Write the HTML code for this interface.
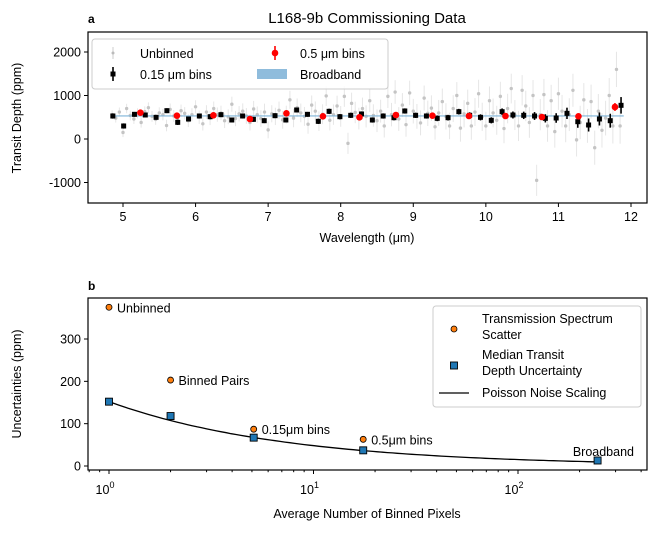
<!DOCTYPE html>
<html><head><meta charset="utf-8"><style>
body{margin:0;background:#fff}
svg{display:block;font-family:"Liberation Sans",sans-serif}
</style></head><body>
<svg id="fig" width="664" height="533" viewBox="0 0 664 533" xmlns="http://www.w3.org/2000/svg">
<text x="367" y="23" font-size="15" text-anchor="middle">L168-9b Commissioning Data</text>
<text x="88" y="23" font-size="12" font-weight="bold">a</text>
<text x="88" y="290" font-size="12" font-weight="bold">b</text>
<g id="panelTop"></g>
<g id="panelBot"></g>
</svg>
<script>
// ---------- Panel a data ----------
const bin15Start = 4.86, bin15Step = 0.149;
const bin15Values = [529,299,567,552,498,651,383,460,529,513,559,437,529,452,421,536,437,667,567,406,636,513,544,575,
  437,529,490,644,544,529,475,490,628,544,498,429,628,552,544,529,475,483,590,398,322,460,421,774];
const bin15Err = [60,60,55,55,55,55,60,55,55,55,55,55,55,55,55,55,55,55,55,60,60,60,60,60,
  60,60,60,60,60,60,65,65,65,70,70,70,75,80,85,90,95,110,130,140,150,150,160,190];
const bin5Start = 5.24, bin5Step = 0.503;
const bin5Values = [605,536,544,460,590,521,498,552,536,529,529,506,521,736];
const bin5Err = [40,40,40,40,40,40,40,40,45,45,50,55,60,90];
const broadbandValue = 530;
const unbStart = 4.85, unbStep = 0.05;
const unbValues = [560,480,620,150,700,540,460,590,380,630,720,520,450,600,560,310,680,530,470,650,
  590,420,560,740,500,350,620,480,700,560,600,420,510,800,470,580,640,530,380,690,
  560,470,620,210,580,520,660,440,560,900,480,720,600,520,340,780,640,410,570,990,
  430,560,760,520,980,-100,820,610,470,700,520,880,540,420,640,300,980,560,1080,460,
  780,330,1060,640,520,370,940,590,710,280,600,860,520,300,700,1000,250,580,820,300,
  620,1040,510,300,880,600,430,980,240,700,1160,550,300,1120,760,380,1000,-950,560,1020,
  300,880,170,1040,640,300,560,1120,-20,380,900,300,860,-200,640,200,480,1000,300,1600,300];
const unbErr = unbValues.map((v,i)=>100+i*2.2);
// ---------- Panel b data ----------
const scatterX = [1,2,5.1,17.5];
const scatterY = [375,203,87,63];
const scatterLabels = ["Unbinned","Binned Pairs","0.15\u03bcm bins","0.5\u03bcm bins"];
const medianX = [1,2,5.1,17.5,245];
const medianY = [152,118,67,37,13];
const poissonBase = 152;
const yTicksA = [-1000,0,1000,2000];
const xTicksA = [5,6,7,8,9,10,11,12];
const yTicksB = [0,100,200,300];
const xTicksB = [1,10,100];

const NS="http://www.w3.org/2000/svg";
function mk(parent,tag,attrs){const e=document.createElementNS(NS,tag);for(const k in attrs)e.setAttribute(k,attrs[k]);parent.appendChild(e);return e;}
function txt(parent,x,y,s,attrs){const e=mk(parent,'text',Object.assign({x:x,y:y,'font-size':12.5},attrs||{}));e.textContent=s;return e;}

// ===== Panel a =====
const gTop=document.getElementById('panelTop');
const AL=88,AR=647,AT=32,AB=203;
const xa=v=>123+(v-5)*72.57;
const ya=v=>139-v*0.0435;
mk(gTop,'rect',{x:AL,y:AT,width:AR-AL,height:AB-AT,fill:'none',stroke:'#000','stroke-width':1.2});
unbValues.forEach((v,i)=>{const x=xa(unbStart+i*unbStep);
  const g=mk(gTop,'g',{});
  
  
  mk(g,'line',{x1:x,x2:x,y1:ya(v-unbErr[i]),y2:ya(v+unbErr[i]),stroke:'#e6e6e6','stroke-width':1});
  mk(g,'circle',{cx:x,cy:ya(v),r:1.7,fill:'#c4c4c4'});});
mk(gTop,'line',{x1:xa(4.86),x2:xa(11.9),y1:ya(broadbandValue),y2:ya(broadbandValue),stroke:'#7eb3d8','stroke-width':1.1,});
bin15Values.forEach((v,i)=>{const x=xa(bin15Start+i*bin15Step);
  const g=mk(gTop,'g',{});
  
  
  mk(g,'line',{x1:x,x2:x,y1:ya(v-bin15Err[i]),y2:ya(v+bin15Err[i]),stroke:'#000','stroke-width':1.6});
  mk(g,'rect',{x:x-2.5,y:ya(v)-2.5,width:5,height:5,fill:'#000'});});
bin5Values.forEach((v,i)=>{const x=xa(bin5Start+i*bin5Step);
  const g=mk(gTop,'g',{});
  
  
  mk(g,'line',{x1:x,x2:x,y1:ya(v-bin5Err[i]),y2:ya(v+bin5Err[i]),stroke:'red','stroke-width':1.6});
  mk(g,'circle',{cx:x,cy:ya(v),r:3.3,fill:'red'});});
xTicksA.forEach(t=>{const x=xa(t);mk(gTop,'line',{x1:x,x2:x,y1:AB,y2:AB+4,stroke:'#000'});
  const e=txt(gTop,x,AB+18,String(t),{'text-anchor':'middle'});});
yTicksA.forEach(t=>{const y=ya(t);mk(gTop,'line',{x1:AL-4,x2:AL,y1:y,y2:y,stroke:'#000'});
  const e=txt(gTop,AL-7,y+4.5,String(t),{'text-anchor':'end'});});
txt(gTop,367,242,'Wavelength (\u03bcm)',{'text-anchor':'middle',});
txt(gTop,21,118,'Transit Depth (ppm)',{'text-anchor':'middle',transform:'rotate(-90 21 118)',});
// legend a
const lg=mk(gTop,'g',{});
mk(lg,'rect',{x:92,y:39,width:296,height:50,rx:3,fill:'#fff','fill-opacity':0.85,stroke:'#ccc'});
mk(lg,'line',{x1:113,x2:113,y1:47,y2:59,stroke:'#ccc'});mk(lg,'circle',{cx:113,cy:53,r:1.5,fill:'#bbb'});
txt(lg,140,58,'Unbinned');
mk(lg,'line',{x1:113,x2:113,y1:67,y2:81,stroke:'#000','stroke-width':1.6});mk(lg,'rect',{x:110.5,y:71.5,width:5,height:5,fill:'#000'});
txt(lg,140,79,'0.15 \u03bcm bins');
mk(lg,'line',{x1:275,x2:275,y1:46,y2:60,stroke:'red','stroke-width':1.6});mk(lg,'circle',{cx:275,cy:53,r:3.3,fill:'red'});
txt(lg,300,58,'0.5 \u03bcm bins');
mk(lg,'rect',{x:257,y:69,width:30,height:10,fill:'#8fbcdc'});
txt(lg,300,79,'Broadband');

// ===== Panel b =====
const gBot=document.getElementById('panelBot');
const BL=88,BR=647,BT=298,BB=470;
const xb=v=>109+Math.log10(v)*204.5;
const yb=v=>466-v*0.4233;
mk(gBot,'rect',{x:BL,y:BT,width:BR-BL,height:BB-BT,fill:'none',stroke:'#000','stroke-width':1.2});
let d='';for(let i=0;i<=100;i++){const n=Math.pow(10,Math.log10(245)*i/100);d+=(i?'L':'M')+xb(n).toFixed(1)+','+yb(poissonBase/Math.sqrt(n)).toFixed(1);}
mk(gBot,'path',{d:d,fill:'none',stroke:'#000','stroke-width':1.3,});
scatterX.forEach((v,i)=>{const c=mk(gBot,'circle',{cx:xb(v),cy:yb(scatterY[i]),r:3,fill:'#ff7f0e',stroke:'#000','stroke-width':0.8});
  
  const t=txt(gBot,xb(v)+8,yb(scatterY[i])+5,scatterLabels[i]);});
medianX.forEach((v,i)=>{const r=mk(gBot,'rect',{x:xb(v)-3.5,y:yb(medianY[i])-3.5,width:7,height:7,fill:'#1f77b4',stroke:'#000','stroke-width':0.9});
  });
txt(gBot,634,456,'Broadband',{'text-anchor':'end',});
for(let dec=0;dec<3;dec++)for(let m=1;m<10;m++){const v=m*Math.pow(10,dec);if(v>427)continue;const x=xb(v);
  mk(gBot,'line',{x1:x,x2:x,y1:BB,y2:BB+(m==1?4:2.2),stroke:'#000'});}
mk(gBot,'line',{x1:xb(0.8),x2:xb(0.8),y1:BB,y2:BB+2.2,stroke:'#000'});mk(gBot,'line',{x1:xb(0.9),x2:xb(0.9),y1:BB,y2:BB+2.2,stroke:'#000'});
xTicksB.forEach((t,i)=>{const x=xb(t);const e=mk(gBot,'text',{x:x-4,y:BB+24,'font-size':12.5,'text-anchor':'middle'});
  
  e.innerHTML='10<tspan font-size="9" dy="-6">'+i+'</tspan>';});
yTicksB.forEach(t=>{const y=yb(t);mk(gBot,'line',{x1:BL-4,x2:BL,y1:y,y2:y,stroke:'#000'});
  const e=txt(gBot,BL-7,y+4.5,String(t),{'text-anchor':'end'});});
txt(gBot,367,518,'Average Number of Binned Pixels',{'text-anchor':'middle',});
txt(gBot,21,384,'Uncertainties (ppm)',{'text-anchor':'middle',transform:'rotate(-90 21 384)',});
const lb=mk(gBot,'g',{});
mk(lb,'rect',{x:433,y:306,width:208,height:101,rx:3,fill:'#fff','fill-opacity':0.85,stroke:'#ccc'});
mk(lb,'circle',{cx:454,cy:329,r:3,fill:'#ff7f0e',stroke:'#000','stroke-width':0.8});
txt(lb,482,323,'Transmission Spectrum');txt(lb,482,339,'Scatter');
mk(lb,'rect',{x:450.5,y:362,width:7,height:7,fill:'#1f77b4',stroke:'#000','stroke-width':0.9});
txt(lb,482,359,'Median Transit');txt(lb,482,375,'Depth Uncertainty');
mk(lb,'line',{x1:439,x2:469,y1:393,y2:393,stroke:'#000','stroke-width':1.3});
txt(lb,482,397,'Poisson Noise Scaling');
</script>
</body></html>
